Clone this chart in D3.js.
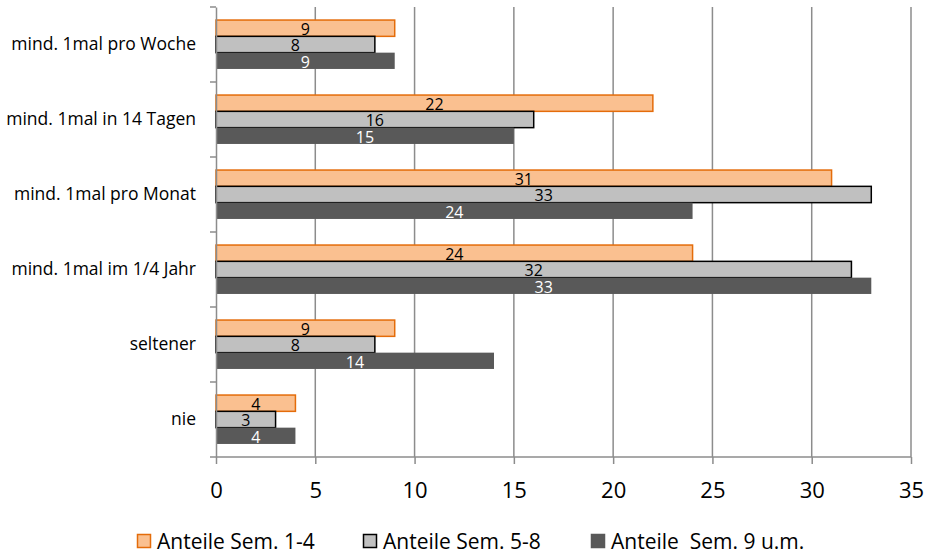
<!DOCTYPE html>
<html>
<head>
<meta charset="utf-8">
<script src="https://cdn.jsdelivr.net/npm/d3@7"></script>
<style>
  body { margin: 0; background: #fff; }
  svg { font-family: "Open Sans", "Liberation Sans", sans-serif; }
</style>
</head>
<body>
<div id="chart"></div>
<script>
// kategorien (von oben nach unten)
const kategorien = ["mind. 1mal pro Woche", "mind. 1mal in 14 Tagen", "mind. 1mal pro Monat",
                    "mind. 1mal im 1/4 Jahr", "seltener", "nie"];
const serienNamen = ["Anteile Sem. 1-4", "Anteile Sem. 5-8", "Anteile  Sem. 9 u.m."];
const sem1bis4 = [9, 22, 31, 24, 9, 4];
const sem5bis8 = [8, 16, 33, 32, 8, 3];
const sem9plus = [9, 15, 24, 33, 14, 4];
const xTicks = [0, 5, 10, 15, 20, 25, 30, 35];

const serien = [sem1bis4, sem5bis8, sem9plus];
const fuellung = ["#fac090", "#c0c0c0", "#595959"];
const rand = ["#e46c0a", "#000000", "#595959"];
const textFarbe = ["#000", "#000", "#fff"];

const breite = 936, hoehe = 555;
const margin = {top: 7, right: 25, bottom: 98, left: 216};
const w = breite - margin.left - margin.right;
const h = hoehe - margin.top - margin.bottom;

const svg = d3.select("#chart").append("svg")
    .attr("width", breite)
    .attr("height", hoehe);

const g = svg.append("g")
    .attr("transform", "translate(" + margin.left + "," + margin.top + ")");

const x = d3.scaleLinear().domain([0, 35]).range([0, w]);
const y = d3.scaleBand().domain(kategorien).range([0, h]);
const yInner = d3.scaleBand().domain([0, 1, 2]).range([0, y.bandwidth()])
    .paddingOuter(0.8).paddingInner(0);

// gitterlinien
g.append("g").selectAll("line")
    .data(xTicks.slice(1))
    .join("line")
    .attr("x1", d => x(d)).attr("x2", d => x(d))
    .attr("y1", 0).attr("y2", h)
    .attr("stroke", "#8c8c8c")
    .attr("stroke-width", 1.5);

// balken
const gruppen = g.append("g").selectAll("g")
    .data(kategorien)
    .join("g")
    .attr("transform", d => "translate(0," + y(d) + ")");

gruppen.each(function(kat, i) {
    const grp = d3.select(this);
    serien.forEach(function(s, j) {
        const v = s[i];
        const bw = yInner.bandwidth();
        grp.append("rect")
            .attr("x", 0)
            .attr("y", yInner(j))
            .attr("width", x(v))
            .attr("height", bw)
            .attr("fill", fuellung[j])
            .attr("stroke", rand[j])
            .attr("stroke-width", j === 2 ? 0 : 1.5);
    });
});
// beschriftungen erst nach allen balken, damit sie oben liegen
gruppen.each(function(kat, i) {
    const grp = d3.select(this);
    serien.forEach(function(s, j) {
        const v = s[i];
        const bw = yInner.bandwidth();
        grp.append("text")
            .attr("x", x(v) / 2)
            .attr("y", yInner(j) + bw / 2 + 1)
            .attr("dy", "0.36em")
            .attr("text-anchor", "middle")
            .attr("fill", textFarbe[j])
            .style("font-size", "16px")
            .text(v);
    });
});

// y-achse
const yAchse = g.append("g")
    .call(d3.axisLeft(y).tickSize(0).tickPadding(20));
yAchse.select(".domain").attr("stroke", "#8c8c8c").attr("stroke-width", 1.5);
yAchse.selectAll("text").style("font-size", "17.5px").attr("fill", "#000")
    .style("font-family", "'Open Sans', sans-serif");
// kategorie-trennstriche
g.append("g").selectAll("line")
    .data(d3.range(kategorien.length + 1))
    .join("line")
    .attr("x1", -6).attr("x2", 0)
    .attr("y1", d => d * y.step()).attr("y2", d => d * y.step())
    .attr("stroke", "#8c8c8c").attr("stroke-width", 1.5);

// x-achse
const xAchse = g.append("g")
    .attr("transform", "translate(0," + h + ")")
    .call(d3.axisBottom(x).tickValues(xTicks).tickSize(7).tickPadding(18));
xAchse.selectAll("line").attr("stroke", "#8c8c8c").attr("stroke-width", 1.5);
xAchse.select(".domain").attr("stroke", "#8c8c8c").attr("stroke-width", 1.5)
    .attr("d", "M0,0H" + w);
xAchse.selectAll("text").style("font-size", "22px").attr("fill", "#000")
    .style("font-family", "'Open Sans', sans-serif");

// legende
const legendeX = [137, 363, 591];
const legende = svg.append("g").selectAll("g")
    .data(serienNamen)
    .join("g")
    .attr("transform", (d, i) => "translate(" + legendeX[i] + ",534)");
legende.append("rect")
    .attr("x", 0.5).attr("y", 0.5)
    .attr("width", 13).attr("height", 13)
    .attr("fill", (d, i) => fuellung[i])
    .attr("stroke", (d, i) => rand[i])
    .attr("stroke-width", 1.5);
legende.append("text")
    .attr("x", 20).attr("y", 7)
    .attr("dy", "0.36em")
    .style("font-size", "21px")
    .style("white-space", "pre")
    .attr("xml:space", "preserve")
    .text(d => d);
</script>
</body>
</html>
